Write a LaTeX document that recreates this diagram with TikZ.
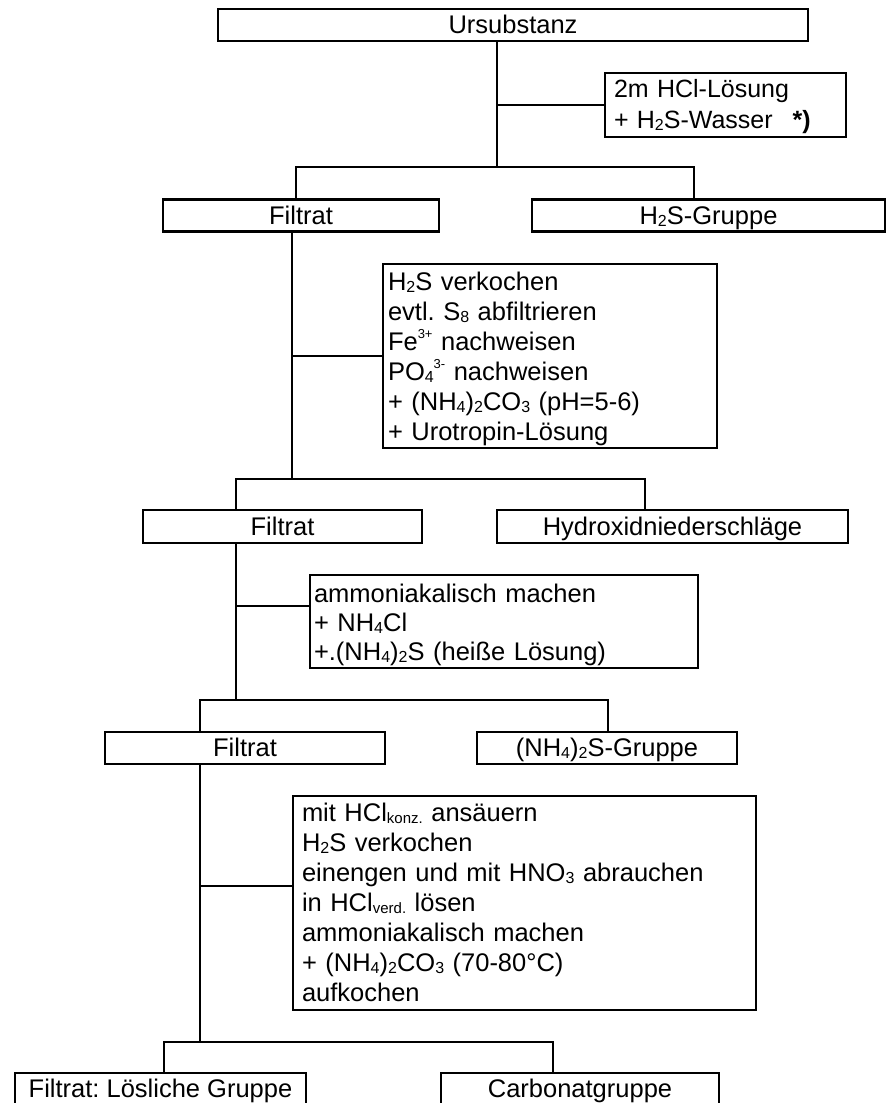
\documentclass[tikz,border=0pt]{standalone}
\usepackage{fontspec}
\setmainfont{Liberation Sans}
\newcommand\lo[1]{\raisebox{-2pt}{\fontsize{16}{16}\selectfont #1}}
\newcommand\hi[1]{\raisebox{11.5pt}{\fontsize{13}{13}\selectfont #1}}
\newcommand\idx[1]{\raisebox{-2pt}{\fontsize{15}{15}\selectfont #1}}
\newcommand\topstrut[1]{\rule{0pt}{#1}}
\newcommand\botstrut[1]{\rule[-#1]{0pt}{#1}}
\frenchspacing
\begin{document}
\begin{tikzpicture}[x=1pt,y=-1pt,line width=2.2pt,
  box/.style={draw,rectangle,inner sep=0pt,line width=2.5pt,font=\fontsize{25.5}{30}\selectfont},
  sbox/.style={box,text height=21pt,text depth=4pt},
  tbox/.style={box,align=left,inner ysep=0pt},
  conn/.style={line width=2.2pt}]
\useasboundingbox (0,0) rectangle (887,1103);

% boxes
\node[sbox,minimum width=590pt,minimum height=32pt] (A) at (513,25) {Ursubstanz};
\node[tbox,inner xsep=9pt,text width=223pt,minimum width=241pt,minimum height=64pt,
      font=\fontsize{25}{31}\selectfont] (B) at (725.5,105)
      {\topstrut{24pt}2m HCl-Lösung\\+ H\lo{2}S-Wasser\hspace{20pt}\textbf{*)}\botstrut{9pt}};
\node[sbox,minimum width=276pt,minimum height=32pt] (C) at (301,215.5) {Filtrat};
\node[sbox,minimum width=353pt,minimum height=32pt] (D) at (708.5,215.5) {H\lo{2}S-Gruppe};
\node[tbox,inner xsep=5pt,text width=324pt,minimum width=334pt,minimum height=184pt] (E) at (550,356)
      {\topstrut{26pt}H\lo{2}S verkochen\\evtl. S\lo{8} abfiltrieren\\Fe\hi{3+} nachweisen\\PO\lo{4}\hi{3-} nachweisen\\+ (NH\lo{4})\lo{2}CO\lo{3} (pH=5-6)\\+ Urotropin-Lösung\botstrut{8pt}};
\node[sbox,minimum width=279pt,minimum height=33pt] (F) at (282.5,526.5) {Filtrat};
\node[sbox,minimum width=351pt,minimum height=33pt] (G) at (672.5,526.5) {Hydroxidniederschläge};
\node[tbox,inner xsep=4pt,text width=380pt,minimum width=388pt,minimum height=93pt,
      font=\fontsize{25.5}{29}\selectfont] (H) at (504,621.5)
      {\topstrut{27pt}ammoniakalisch machen\\+ NH\lo{4}Cl\\+.(NH\lo{4})\lo{2}S (heiße Lösung)\botstrut{8pt}};
\node[sbox,minimum width=280pt,minimum height=32pt] (I) at (245,748) {Filtrat};
\node[sbox,minimum width=260pt,minimum height=32pt] (J) at (607,748) {(NH\lo{4})\lo{2}S-Gruppe};
\node[tbox,inner xsep=9pt,text width=445pt,minimum width=463pt,minimum height=214pt] (K) at (524.5,903)
      {\topstrut{25pt}mit HCl\idx{konz.} ansäuern\\H\lo{2}S verkochen\\einengen und mit HNO\lo{3} abrauchen\\in HCl\idx{verd.} lösen\\ammoniakalisch machen\\+ (NH\lo{4})\lo{2}CO\lo{3} (70-80°C)\\aufkochen\botstrut{9pt}};
\node[sbox,minimum width=291pt,minimum height=31.5pt] (L) at (160.5,1088.75) {Filtrat: Lösliche Gruppe};
\node[sbox,minimum width=278pt,minimum height=31.5pt] (M) at (580,1088.75) {Carbonatgruppe};

% level 1
\coordinate (j1) at (497,167);
\coordinate (b1l) at (296,167);
\coordinate (b1r) at (694,167);
\draw[conn] (A.south -| j1) -- (j1);
\draw[conn] (B.west -| j1) -- (B.west);
\draw[conn] (b1l |- C.north) -- (b1l) -- (b1r) -- (b1r |- D.north);

% level 2
\coordinate (j2) at (292,479);
\coordinate (b2l) at (236,479);
\coordinate (b2r) at (645,479);
\draw[conn] (C.south -| j2) -- (j2);
\draw[conn] (E.west -| j2) -- (E.west);
\draw[conn] (b2l |- F.north) -- (b2l) -- (b2r) -- (b2r |- G.north);

% level 3
\coordinate (j3) at (236,700);
\coordinate (b3l) at (200,700);
\coordinate (b3r) at (608,700);
\path (H.north west) ++(0,32) coordinate (Hin);
\draw[conn] (F.south -| j3) -- (j3);
\draw[conn] (Hin -| j3) -- (Hin);
\draw[conn] (b3l |- I.north) -- (b3l) -- (b3r) -- (b3r |- J.north);

% level 4
\coordinate (j4) at (200,1042);
\coordinate (b4l) at (164,1042);
\coordinate (b4r) at (553,1042);
\path (K.north west) ++(0,91) coordinate (Kin);
\draw[conn] (I.south -| j4) -- (j4);
\draw[conn] (Kin -| j4) -- (Kin);
\draw[conn] (b4l |- L.north) -- (b4l) -- (b4r) -- (b4r |- M.north);
\end{tikzpicture}
\end{document}
